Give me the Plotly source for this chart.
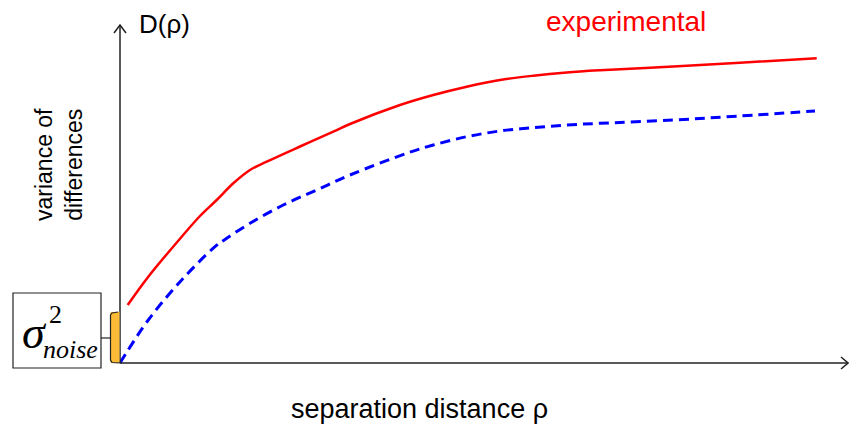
import plotly.graph_objects as go

# ---- data (separation distance rho, variance of differences D) ----
rho_experimental = [0.077, 0.283, 0.617, 0.80, 0.967, 1.133, 1.30, 1.467, 1.80, 2.133, 2.30,
                    2.80, 3.133, 3.467, 3.80, 4.133, 4.467, 4.80, 5.533, 6.20, 6.967]
D_experimental = [0.58, 0.863, 1.263, 1.47, 1.63, 1.797, 1.93, 2.013, 2.165, 2.313, 2.39,
                  2.58, 2.68, 2.763, 2.83, 2.873, 2.905, 2.927, 2.965, 3.003, 3.047]

rho_model = [0.0, 0.283, 0.617, 0.95, 1.067, 1.30, 1.633, 1.967, 2.30, 2.867, 3.133,
             3.467, 3.80, 4.133, 4.467, 4.80, 5.533, 6.20, 6.95]
D_model = [0.0, 0.43, 0.83, 1.163, 1.247, 1.397, 1.58, 1.73, 1.88, 2.097, 2.18,
           2.263, 2.32, 2.353, 2.38, 2.397, 2.43, 2.47, 2.52]

W, H = 849, 427
OX, OY, S = 120, 363, 100.0  # pixel origin and pixels per unit


def dx(px):
    return (px - OX) / S


def dy(py):
    return (OY - py) / S


fig = go.Figure()
fig.add_trace(go.Scatter(x=rho_experimental, y=D_experimental, mode="lines",
                         line=dict(color="#ff0000", width=2.5, shape="spline", smoothing=1.0),
                         showlegend=False, hoverinfo="skip"))
fig.add_trace(go.Scatter(x=rho_model, y=D_model, mode="lines",
                         line=dict(color="#0000ff", width=3, dash="10px,6px", shape="spline", smoothing=1.0),
                         showlegend=False, hoverinfo="skip"))

shapes = []
axcol = "#222222"
# axes
shapes.append(dict(type="line", x0=dx(120), y0=dy(363), x1=dx(120), y1=dy(25), line=dict(color=axcol, width=1.5)))
shapes.append(dict(type="line", x0=dx(120), y0=dy(363), x1=dx(848), y1=dy(363), line=dict(color=axcol, width=1.5)))
# arrow heads (open chevrons)
shapes.append(dict(type="path",
                   path=f"M {dx(114)},{dy(33)} L {dx(120)},{dy(25)} L {dx(126)},{dy(33)}",
                   line=dict(color=axcol, width=1.5)))
shapes.append(dict(type="path",
                   path=f"M {dx(841)},{dy(357)} L {dx(848)},{dy(363)} L {dx(841)},{dy(369)}",
                   line=dict(color=axcol, width=1.5)))
# noise box
shapes.append(dict(type="rect", x0=dx(13), y0=dy(293), x1=dx(101), y1=dy(368),
                   line=dict(color="#222222", width=1.2), fillcolor="rgba(0,0,0,0)"))
# orange bracket
shapes.append(dict(type="rect", x0=dx(110.5), y0=dy(312), x1=dx(119.5), y1=dy(363),
                   line=dict(width=0), fillcolor="#fbbb36"))
shapes.append(dict(type="path",
                   path=(f"M {dx(118)},{dy(312)} L {dx(112)},{dy(313)} L {dx(110.5)},{dy(315)} "
                         f"L {dx(110.5)},{dy(360)} L {dx(112)},{dy(362.5)} L {dx(120)},{dy(363)}"),
                   line=dict(color="#222222", width=1.2)))
shapes.append(dict(type="line", x0=dx(101), y0=dy(338), x1=dx(110.5), y1=dy(338),
                   line=dict(color="#222222", width=1.2)))

ann = []
sans = "Liberation Sans, Arial, sans-serif"
serif = "Liberation Serif, Times New Roman, serif"


def A(text, px, py, size, color="#000000", family=sans, xanchor="center", angle=0, italic=False):
    ann.append(dict(text=text, x=px / W, y=1 - py / H, xref="paper", yref="paper",
                    xanchor=xanchor, yanchor="middle", showarrow=False, textangle=angle,
                    font=dict(size=size, color=color, family=family,
                              style="italic" if italic else "normal")))


A("D(ρ)", 137, 24, 26, xanchor="left")
A("experimental", 544, 21, 28, color="#ff0000", xanchor="left")
A("separation distance ρ", 419, 409, 27)
A("variance of<br>differences", 59, 164, 23, angle=-90)
A("σ", 34, 332, 46, family=serif, italic=True)
A("2", 55, 314, 26, family=serif)
A("noise", 70, 349, 26, family=serif, italic=True)

fig.update_layout(
    width=W, height=H, margin=dict(l=0, r=0, t=0, b=0),
    paper_bgcolor="white", plot_bgcolor="white",
    xaxis=dict(range=[dx(0), dx(W)], visible=False, fixedrange=True),
    yaxis=dict(range=[dy(H), dy(0)], visible=False, fixedrange=True),
    shapes=shapes, annotations=ann, showlegend=False,
)
fig.write_html("out.html")
